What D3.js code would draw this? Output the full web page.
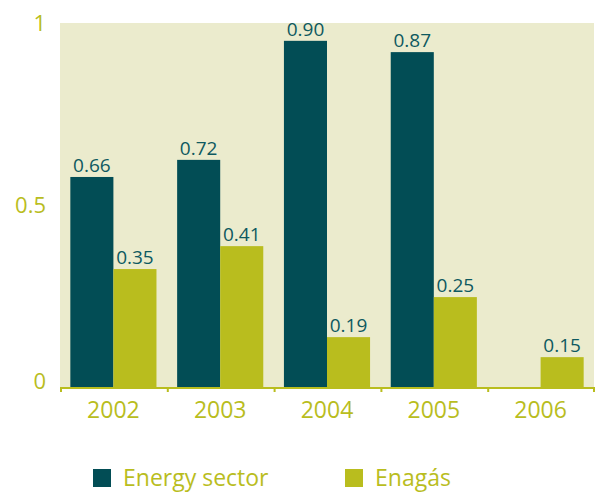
<!DOCTYPE html>
<html>
<head>
<meta charset="utf-8">
<script src="https://d3js.org/d3.v7.min.js"></script>
<style>
  body { margin: 0; background: #fff; }
  svg { display: block; font-family: "Open Sans", sans-serif; }
</style>
</head>
<body>
<div id="chart"></div>
<script>
var years = ["2002", "2003", "2004", "2005", "2006"];
var seriesNames = ["Energy sector", "Enagás"];
// bar heights as drawn against the axis
var energyValues = [0.577, 0.624, 0.951, 0.920, null];
var enagasValues = [0.324, 0.387, 0.137, 0.247, 0.082];
// printed labels above the bars
var energyLabels = ["0.66", "0.72", "0.90", "0.87", ""];
var enagasLabels = ["0.35", "0.41", "0.19", "0.25", "0.15"];
var yTicks = [0, 0.5, 1];
var yTickLabels = ["0", "0.5", "1"];

var width = 597, height = 495;
var margin = {top: 23, right: 3, bottom: 108, left: 60};
var teal = "#024d55", lime = "#b9bd1e", bg = "#ebebcd", labelColor = "#0e5960";

var svg = d3.select("#chart").append("svg")
    .attr("width", width)
    .attr("height", height);

var x = d3.scaleBand()
    .domain(years)
    .range([margin.left, width - margin.right]);

var x1 = d3.scaleBand()
    .domain(seriesNames)
    .range([0, x.bandwidth()])
    .paddingOuter(0.24);

var y = d3.scaleLinear()
    .domain([0, 1])
    .range([height - margin.bottom, margin.top]);

svg.append("rect")
    .attr("x", margin.left)
    .attr("y", margin.top)
    .attr("width", width - margin.right - margin.left)
    .attr("height", y(0) - margin.top)
    .attr("fill", bg);

var data = years.map(function(yr, i) {
  return {
    year: yr,
    bars: [
      {name: seriesNames[0], value: energyValues[i], label: energyLabels[i], color: teal},
      {name: seriesNames[1], value: enagasValues[i], label: enagasLabels[i], color: lime}
    ]
  };
});

var groups = svg.selectAll("g.group").data(data).enter()
  .append("g")
    .attr("class", "group")
    .attr("transform", function(d) { return "translate(" + x(d.year) + ",0)"; });

var bars = groups.selectAll("g.bar")
  .data(function(d) { return d.bars.filter(function(b) { return b.value != null; }); })
  .enter().append("g").attr("class", "bar");

bars.append("rect")
    .attr("x", function(d) { return x1(d.name); })
    .attr("width", x1.bandwidth())
    .attr("y", function(d) { return y(d.value); })
    .attr("height", function(d) { return y(0) - y(d.value); })
    .attr("fill", function(d) { return d.color; });

bars.append("text")
    .attr("x", function(d) { return x1(d.name) + x1.bandwidth() / 2; })
    .attr("y", function(d) { return y(d.value) - 5; })
    .attr("text-anchor", "middle")
    .attr("fill", labelColor)
    .style("font-size", "19px")
    .text(function(d) { return d.label; });

// x axis
var xAxis = svg.append("g")
    .attr("transform", "translate(0," + y(0) + ")")
    .call(d3.axisBottom(x).tickSize(0).tickPadding(15));
xAxis.select(".domain").remove();
xAxis.selectAll("text")
    .attr("fill", lime)
    .style("font-size", "23px")
    .style("font-family", "'Open Sans', sans-serif");

svg.append("line")
    .attr("x1", margin.left)
    .attr("x2", width - margin.right)
    .attr("y1", y(0) + 1)
    .attr("y2", y(0) + 1)
    .attr("stroke", lime)
    .attr("stroke-width", 2);

var bounds = years.map(function(yr) { return x(yr); }).concat([x.range()[1] - 1]);
svg.selectAll("line.tick").data(bounds).enter()
  .append("line")
    .attr("class", "tick")
    .attr("x1", function(d) { return d + 1; })
    .attr("x2", function(d) { return d + 1; })
    .attr("y1", y(0))
    .attr("y2", y(0) + 5)
    .attr("stroke", lime)
    .attr("stroke-width", 2);

// y axis labels
svg.selectAll("text.ytick").data(yTicks).enter()
  .append("text")
    .attr("class", "ytick")
    .attr("x", 46)
    .attr("y", function(d) { return y(d) + (d === 0 ? 2 : 8); })
    .attr("text-anchor", "end")
    .attr("fill", lime)
    .style("font-size", "22px")
    .text(function(d, i) { return yTickLabels[i]; });

// legend
var legendX = [93, 345];
var legend = svg.selectAll("g.legend").data(seriesNames).enter()
  .append("g")
    .attr("class", "legend")
    .attr("transform", function(d, i) { return "translate(" + legendX[i] + ",469)"; });

legend.append("rect")
    .attr("width", 18)
    .attr("height", 18)
    .attr("fill", function(d, i) { return i === 0 ? teal : lime; });

legend.append("text")
    .attr("x", 30)
    .attr("y", 17)
    .attr("fill", lime)
    .style("font-size", "23px")
    .text(function(d) { return d; });
</script>
</body>
</html>
